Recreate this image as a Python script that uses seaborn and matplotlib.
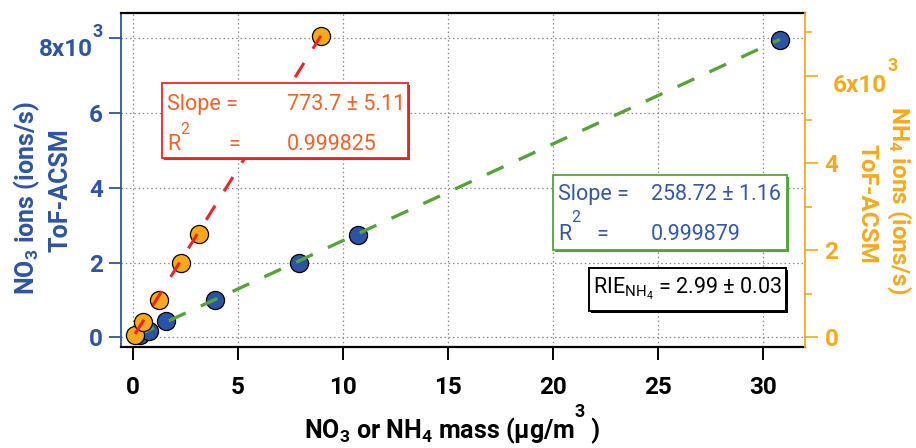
import numpy as np
import pandas as pd
import matplotlib
matplotlib.use("Agg")
import matplotlib.pyplot as plt
import matplotlib.patches as mpatches
import seaborn as sns

# ---------------- data ----------------
no3_mass = [0.33, 0.78, 1.56, 3.92, 7.92, 10.70, 30.81]
no3_ions = [50, 170, 427, 1005, 1985, 2730, 7960]
nh4_mass = [0.10, 0.46, 1.24, 2.30, 3.13, 8.95]
nh4_ions = [46, 352, 867, 1717, 2375, 6920]

no3_slope = 258.72
nh4_slope = 773.7
no3_fit_range = [0.2, 30.81]
nh4_fit_range = [0.1, 8.95]

x_ticks = [0, 5, 10, 15, 20, 25, 30]
left_ticks = [0, 2000, 4000, 6000, 8000]
left_tick_labels = ['0', '2', '4', '6', '']
right_ticks = [0, 2000, 4000, 6000]
right_tick_labels = ['0', '2', '4', '']
right_minor = [1000, 3000, 5000, 7000]

BLUE = "#2f54a2"
ORANGE = "#f6a91e"
MARK_BLUE = "#2c54a6"
MARK_OR = "#f8a81a"
RED = "#e8262a"
GREEN = "#58a23a"
REDTXT = "#f0622a"
FONT = "Roboto"
TICK_FS = 17.5
LAB_FS = 18
BOX_FS = 15.5

W, H = 916, 448
sns.set_style("ticks")
plt.rcParams['font.family'] = [FONT, 'DejaVu Sans']
plt.rcParams['mathtext.fontset'] = 'custom'
plt.rcParams['mathtext.rm'] = FONT
plt.rcParams['mathtext.bf'] = FONT + ':bold'
plt.rcParams['mathtext.it'] = FONT + ':italic'

fig = plt.figure(figsize=(W / 100, H / 100), dpi=100)
renderer = fig.canvas.get_renderer()

def fx(x):
    return x / W

def fy(y):
    return 1 - y / H

L, R, T, B = 121, 805, 13, 347
ax = fig.add_axes([fx(L), fy(B), (R - L) / W, (B - T) / H])
ax2 = ax.twinx()

ax.set_xlim(-0.571, 32.0)
ax.set_ylim(-260, 8677)
ax2.set_ylim(-223, 7447)

# grid
ax.set_xticks(x_ticks)
ax.set_yticks(left_ticks)
ax.set_yticklabels(left_tick_labels)
ax.grid(True, color="#8a8a8a", linestyle=(0, (1.2, 2.2)), linewidth=0.9)
ax.set_axisbelow(True)

# scatter + fits
df_no3 = pd.DataFrame({"mass": no3_mass, "ions": no3_ions})
df_nh4 = pd.DataFrame({"mass": nh4_mass, "ions": nh4_ions})
sns.scatterplot(data=df_no3, x="mass", y="ions", ax=ax, s=170, color=MARK_BLUE,
                edgecolor="black", linewidth=0.9, zorder=3, legend=False)
fit_x = np.array(no3_fit_range)
ax.plot(fit_x, no3_slope * fit_x, color=GREEN, lw=2.4, dashes=(5.5, 5.0), zorder=4)

sns.scatterplot(data=df_nh4, x="mass", y="ions", ax=ax2, s=170, color=MARK_OR,
                edgecolor="black", linewidth=0.9, zorder=3, legend=False)
fit_x2 = np.array(nh4_fit_range)
ax2.plot(fit_x2, nh4_slope * fit_x2, color=RED, lw=2.2, dashes=(5.5, 5.5), zorder=4)

ax.set_xlabel("")
ax.set_ylabel("")
ax2.set_ylabel("")

# spines
for s in ["top", "bottom"]:
    ax.spines[s].set_color("black")
    ax.spines[s].set_linewidth(1.6)
ax.spines["left"].set_color(BLUE)
ax.spines["left"].set_linewidth(1.3)
ax.spines["right"].set_visible(False)
for s in ["top", "bottom", "left"]:
    ax2.spines[s].set_visible(False)
ax2.spines["right"].set_color(ORANGE)
ax2.spines["right"].set_linewidth(1.3)

# ticks
ax.tick_params(axis="x", direction="out", length=9, width=1.4, color="black",
               labelsize=TICK_FS, pad=12, labelcolor="black")
ax.tick_params(axis="y", direction="out", length=9, width=1.3, color=BLUE,
               labelsize=TICK_FS, pad=4, labelcolor=BLUE)
for lab in ax.get_xticklabels() + ax.get_yticklabels():
    lab.set_fontweight("bold")

ax2.set_yticks(right_ticks)
ax2.set_yticklabels(right_tick_labels)
ax2.set_yticks(right_minor, minor=True)
ax2.tick_params(axis="y", which="major", direction="out", length=9, width=1.2,
                color=ORANGE, labelsize=TICK_FS, pad=5, labelcolor=ORANGE)
ax2.tick_params(axis="y", which="minor", direction="out", length=5, width=1.2,
                color=ORANGE)
for lab in ax2.get_yticklabels():
    lab.set_fontweight("bold")


def seq_text(pieces, x, y, align="left", zorder=10):
    """pieces: list of (text, fontsize, dy_px, weight, color). x,y in px."""
    arts = []
    widths = []
    for txt, fs, dy, wt, col in pieces:
        t = fig.text(0, 0, txt, fontsize=fs, fontweight=wt, color=col,
                     ha="left", va="baseline", zorder=zorder)
        widths.append(t.get_window_extent(renderer).width)
        arts.append((t, dy))
    total = sum(widths)
    if align == "center":
        cur = x - total / 2
    elif align == "right":
        cur = x - total
    else:
        cur = x
    for (t, dy), w in zip(arts, widths):
        t.set_position((fx(cur), fy(y - dy)))
        cur += w
    return arts


# exponent tick labels (baseline y)
seq_text([("8x10", TICK_FS, 0, "bold", BLUE), ("3", 13, 19, "bold", BLUE)],
         103, 56, align="right")
seq_text([("6x10", TICK_FS, 0, "bold", ORANGE), ("3", 13, 21, "bold", ORANGE)],
         833, 92, align="left")

# axis labels
fig.text(fx(27), fy(198), r"NO$_\mathbf{3}$ ions (ions/s)", rotation=90,
         ha="center", va="center", fontsize=LAB_FS, fontweight="bold", color=BLUE)
fig.text(fx(61), fy(190), "ToF-ACSM", rotation=90, ha="center", va="center",
         fontsize=LAB_FS, fontweight="bold", color=BLUE)
fig.text(fx(899), fy(200), r"NH$_\mathbf{4}$ ions (ions/s)", rotation=270,
         ha="center", va="center", fontsize=17.5, fontweight="bold", color=ORANGE)
fig.text(fx(867), fy(204), "ToF-ACSM", rotation=270, ha="center", va="center",
         fontsize=17.5, fontweight="bold", color=ORANGE)
seq_text([(r"NO$_\mathbf{3}$ or NH$_\mathbf{4}$ mass (µg/m", 18, 0, "bold", "black"),
          ("3", 13, 21, "bold", "black"),
          (" )", 18, 0, "bold", "black")],
         452, 438, align="center")


def box(x0, y0, x1, y1, ec, lw=1.3, shadow=2):
    sh = mpatches.Rectangle((fx(x0 + shadow), fy(y1 + shadow)), (x1 - x0) / W,
                            (y1 - y0) / H, transform=fig.transFigure,
                            facecolor=ec, edgecolor=ec, lw=0, zorder=5)
    rc = mpatches.Rectangle((fx(x0), fy(y1)), (x1 - x0) / W, (y1 - y0) / H,
                            transform=fig.transFigure, facecolor="white",
                            edgecolor=ec, lw=lw, zorder=6)
    fig.add_artist(sh)
    fig.add_artist(rc)


# red box
box(162, 83, 408, 158, RED)
kw = dict(fontsize=BOX_FS, color=REDTXT, va="center", zorder=10)
fig.text(fx(167), fy(104), "Slope =", ha="left", **kw)
fig.text(fx(287), fy(104), f"{nh4_slope} ± 5.11", ha="left", **kw)
fig.text(fx(167), fy(145), "R", ha="left", **kw)
fig.text(fx(180), fy(129), "2", ha="left", fontsize=11.5, color=REDTXT, va="center", zorder=10)
fig.text(fx(228), fy(145), "=", ha="left", **kw)
fig.text(fx(287), fy(145), "0.999825", ha="left", **kw)

# green box
box(553, 175, 787, 250, GREEN)
kw = dict(fontsize=BOX_FS, color="#3558a6", va="center", zorder=10)
fig.text(fx(558), fy(194), "Slope =", ha="left", **kw)
fig.text(fx(651), fy(194), f"{no3_slope} ± 1.16", ha="left", **kw)
fig.text(fx(558), fy(234), "R", ha="left", **kw)
fig.text(fx(571), fy(218), "2", ha="left", fontsize=11.5, color="#3558a6", va="center", zorder=10)
fig.text(fx(596), fy(234), "=", ha="left", **kw)
fig.text(fx(651), fy(234), "0.999879", ha="left", **kw)

# RIE box
box(589, 268, 786, 311, "black", lw=1.4)
fig.text(fx(688), fy(289), r"RIE$_{\mathrm{NH_4}}$ = 2.99 ± 0.03", ha="center",
         va="center", fontsize=BOX_FS, color="black", zorder=10)

fig.savefig("out.png", dpi=100)
